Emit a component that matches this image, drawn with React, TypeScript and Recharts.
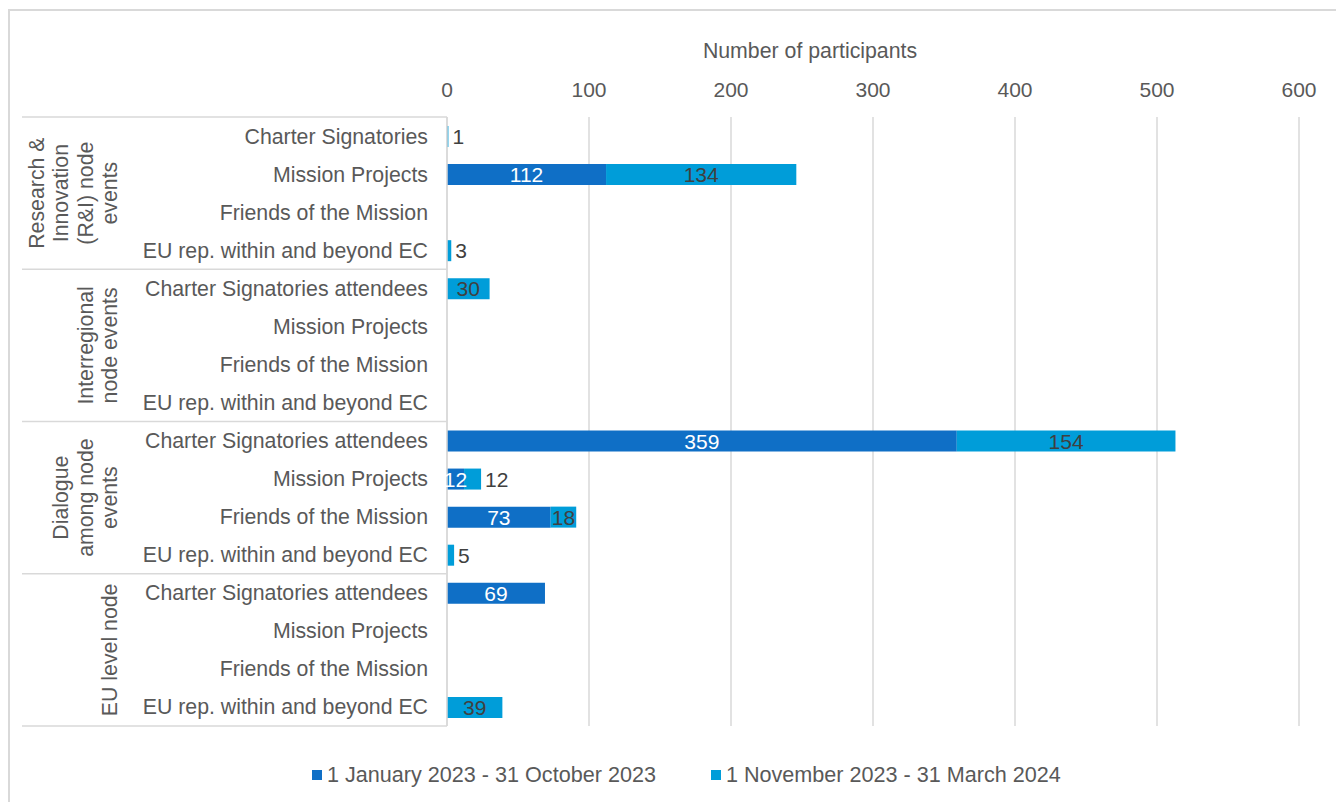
import React from "react";
import { BarChart, Bar, XAxis, YAxis, CartesianGrid, Legend, LabelList } from "recharts";

const categories = [
  "Charter Signatories", "Mission Projects", "Friends of the Mission", "EU rep. within and beyond EC",
  "Charter Signatories attendees", "Mission Projects", "Friends of the Mission", "EU rep. within and beyond EC",
  "Charter Signatories attendees", "Mission Projects", "Friends of the Mission", "EU rep. within and beyond EC",
  "Charter Signatories attendees", "Mission Projects", "Friends of the Mission", "EU rep. within and beyond EC",
];
const groupLabels = [
  ["Research &", "Innovation", "(R&I) node", "events"],
  ["Interregional", "node events"],
  ["Dialogue", "among node", "events"],
  ["EU level node"],
];
const period1 = [0, 112, 0, 0, 0, 0, 0, 0, 359, 12, 73, 0, 69, 0, 0, 0];
const period2 = [1, 134, 0, 3, 30, 0, 0, 0, 154, 12, 18, 5, 0, 0, 0, 39];
const xTicks = [0, 100, 200, 300, 400, 500, 600];
const seriesNames = ["1 January 2023 - 31 October 2023", "1 November 2023 - 31 March 2024"];

const data = categories.map((c, i) => ({ id: i, name: c, p1: period1[i], p2: period2[i] }));

const DARK = "#0F6FC6";
const LIGHT = "#009DD9";
const GRID = "#D9D9D9";
const TEXT = "#595959";
const FONT = "'Liberation Sans', Arial, sans-serif";
const FS = 21;
const CAT_FS = 21.3;
const LEG_FS = 21.6;

const W = 1336;
const H = 802;
const MARGIN = { top: 47, right: 37, left: 0, bottom: 36 };
const XAXIS_H = 70;
const LEGEND_H = 40;
const PLOT_H = H - MARGIN.top - XAXIS_H - MARGIN.bottom - LEGEND_H;
const BAND = PLOT_H / categories.length;

const CategoryTick = (props: any) => {
  const { x, y, payload } = props;
  const i = Number(payload.value);
  const axisX = x + 19;
  const els: any[] = [];
  els.push(
    <text key="t" x={x} y={y + 7.5} textAnchor="end" fill={TEXT} fontSize={CAT_FS} fontFamily={FONT}>
      {categories[i]}
    </text>
  );
  if (i % 4 === 0) {
    const g = i / 4;
    const lines = groupLabels[g];
    const cy = y + 1.5 * BAND;
    els.push(<line key="l" x1={22} x2={axisX} y1={y - BAND / 2} y2={y - BAND / 2} stroke={GRID} strokeWidth={1.5} />);
    lines.forEach((ln, k) => {
      const bx = 117 - 24.5 * (lines.length - 1 - k);
      els.push(
        <text key={"g" + k} x={bx} y={cy} transform={`rotate(-90 ${bx} ${cy})`} textAnchor="middle" fill={TEXT} fontSize={CAT_FS} fontFamily={FONT}>
          {ln}
        </text>
      );
    });
  }
  if (i === categories.length - 1) {
    els.push(<line key="b" x1={22} x2={axisX} y1={y + BAND / 2} y2={y + BAND / 2} stroke={GRID} strokeWidth={1.5} />);
  }
  return <g>{els}</g>;
};

const ValueTick = (props: any) => {
  const { x, y, payload } = props;
  return (
    <text x={x} y={y} textAnchor="middle" fill={TEXT} fontSize={FS} fontFamily={FONT}>
      {payload.value}
    </text>
  );
};

const makeLabel = (inside: string, small: boolean) => (props: any) => {
  const { x, y, width, height, value } = props;
  if (!value) return null;
  const cy = y + height / 2 + 7.5;
  if (small && width < 20) {
    return (
      <text x={x + width + 4} y={cy} textAnchor="start" fill="#404040" fontSize={FS} fontFamily={FONT}>
        {value}
      </text>
    );
  }
  return (
    <text x={x + width / 2} y={cy} textAnchor="middle" fill={inside} fontSize={FS} fontFamily={FONT}>
      {value}
    </text>
  );
};

const AxisTitle = (props: any) => {
  const vb = props.viewBox || { x: 447, y: 47, width: 852 };
  return (
    <text x={vb.x + vb.width / 2 - 63} y={vb.y + 11} textAnchor="middle" fill={TEXT} fontSize={CAT_FS} fontFamily={FONT}>
      Number of participants
    </text>
  );
};

const LegendContent = () => (
  <div style={{ height: LEGEND_H, display: "flex", alignItems: "center", fontFamily: FONT, fontSize: LEG_FS, color: TEXT, whiteSpace: "nowrap" }}>
    {[DARK, LIGHT].map((c, k) => (
      <div key={k} style={{ display: "flex", alignItems: "center", marginRight: k === 0 ? 55 : 0 }}>
        <span style={{ display: "inline-block", width: 10, height: 10, background: c, marginRight: 5 }} />
        <span>{seriesNames[k]}</span>
      </div>
    ))}
  </div>
);

export default function App() {
  return (
    <div style={{ position: "fixed", left: 0, top: 0, width: W, height: H, overflow: "hidden", background: "#fff" }}>
      <div style={{ position: "absolute", left: 8, top: 9, width: 1500, height: 1000, borderLeft: `2px solid ${GRID}`, borderTop: `2px solid ${GRID}` }} />
      <div style={{ position: "absolute", left: 0, top: 0 }}>
        <BarChart width={W} height={H} data={data} layout="vertical" margin={MARGIN}>
          <CartesianGrid horizontal={false} stroke={GRID} strokeWidth={1.5} />
          <XAxis
            type="number"
            orientation="top"
            domain={[0, 600]}
            ticks={xTicks}
            axisLine={false}
            tickLine={false}
            tickSize={0}
            tickMargin={20}
            height={XAXIS_H}
            tick={<ValueTick />}
            label={{ content: <AxisTitle /> } as any}
          />
          <YAxis
            type="category"
            dataKey="id"
            width={447}
            axisLine={{ stroke: GRID, strokeWidth: 1.5 }}
            tickLine={false}
            tickSize={0}
            tickMargin={19}
            interval={0}
            tick={<CategoryTick />}
          />
          <Legend
            verticalAlign="bottom"
            content={<LegendContent />}
            wrapperStyle={{ position: "absolute", left: 312, top: 755, width: 800, height: LEGEND_H }}
          />
          <Bar dataKey="p1" name={seriesNames[0]} stackId="a" fill={DARK} barSize={21} isAnimationActive={false}>
            <LabelList dataKey="p1" content={makeLabel("#ffffff", false)} />
          </Bar>
          <Bar dataKey="p2" name={seriesNames[1]} stackId="a" fill={LIGHT} barSize={21} isAnimationActive={false}>
            <LabelList dataKey="p2" content={makeLabel("#404040", true)} />
          </Bar>
        </BarChart>
      </div>
    </div>
  );
}
